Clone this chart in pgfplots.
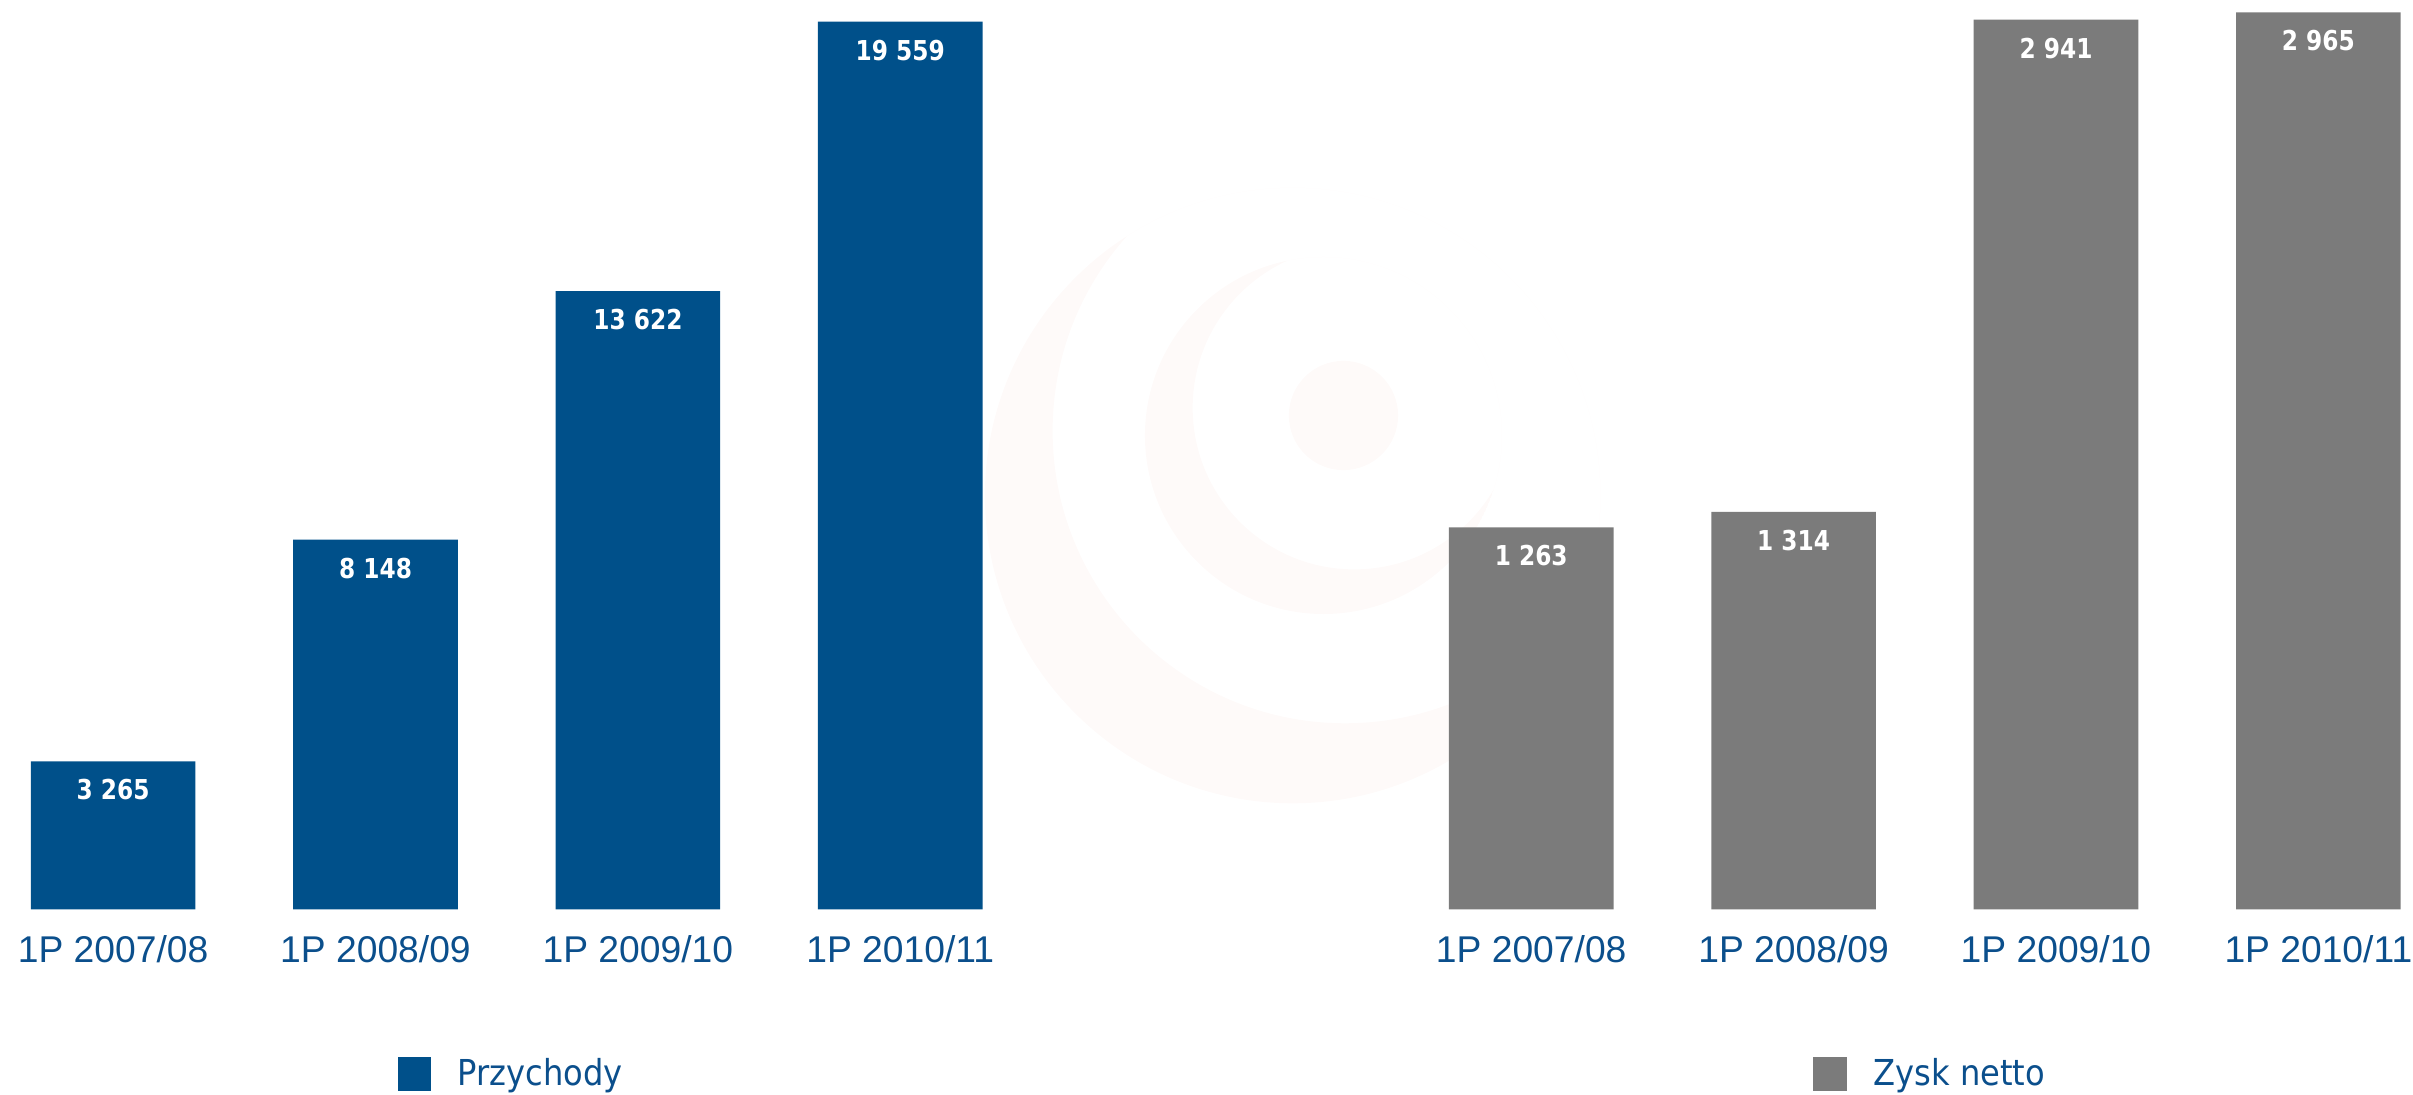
\documentclass[border=0pt]{standalone}
\usepackage{fontspec}
\usepackage{pgfplots}
\pgfplotsset{compat=1.18}

\newfontfamily\ticfont{Liberation Sans}
\newfontfamily\valfont[FakeStretch=0.85]{DejaVu Sans}
\newfontfamily\legfont[FakeStretch=0.9]{DejaVu Sans}

\definecolor{przych}{HTML}{00508A}
\definecolor{zysk}{HTML}{7B7B7B}
\definecolor{lbl}{HTML}{0B4F8C}
\definecolor{wm}{HTML}{FEFAF9}

\pgfplotsset{
  panel/.style={
    scale only axis, width=341pt, height=295.5pt,
    xmin=-0.5, xmax=3.5, ymin=0,
    axis line style={draw=none}, tick style={draw=none}, ytick=\empty,
    xtick={0,1,2,3},
    xticklabels={1P 2007/08,1P 2008/09,1P 2009/10,1P 2010/11},
    xticklabel style={font=\ticfont\fontsize{12.1}{14}\selectfont, text=lbl,
      anchor=base, yshift=-13pt, inner sep=0pt},
    ybar, bar width=53.5pt,
    nodes near coords={\pgfmathprintnumber[fixed, precision=0, 1000 sep={\ }, assume math mode=true]{\pgfplotspointmeta}},
    nodes near coords align={below},
    every node near coord/.append style={font=\valfont\bfseries\fontsize{8.9}{11}\selectfont,
      text=white, inner sep=0pt, yshift=-5.75pt},
    legend style={draw=none, fill=none, inner sep=0pt, nodes={inner sep=0pt},
      anchor=west, font=\legfont\fontsize{11.6}{14}\selectfont, text=lbl},
    legend image code/.code={\fill[##1] (0pt,-5.5pt) rectangle (11pt,5.5pt); \path (19.5pt,0pt);},
  }
}

\begin{document}
\begin{tikzpicture}
% faint logo in the background
\begin{scope}
  \clip (420pt,194.75pt) circle (100pt);
  \fill[wm, even odd rule] (420pt,194.75pt) circle (100pt) (437pt,215.75pt) circle (95pt);
\end{scope}
\begin{scope}
  \clip (430pt,214.25pt) circle (58pt);
  \fill[wm, even odd rule] (430pt,214.25pt) circle (58pt) (440pt,223.25pt) circle (52.5pt);
\end{scope}
\fill[wm] (436.5pt,220.75pt) circle (17.75pt);

\begin{axis}[panel, at={(-5.875pt,60.25pt)}, anchor=south west, ymax=20034,
  legend style={at={(0.3955,-0.181)}}]
  \addplot[fill=przych, draw=none] coordinates {(0,3265) (1,8148) (2,13622) (3,19559)};
  \addlegendentry{Przychody}
\end{axis}

\begin{axis}[panel, at={(454.875pt,60.25pt)}, anchor=south west, ymax=3005.7,
  legend style={at={(0.3933,-0.181)}}]
  \addplot[fill=zysk, draw=none] coordinates {(0,1263) (1,1314) (2,2941) (3,2965)};
  \addlegendentry{Zysk netto}
\end{axis}

\pgfresetboundingbox
\path[use as bounding box] (0,0) rectangle (784pt,355.75pt);
\end{tikzpicture}
\end{document}
